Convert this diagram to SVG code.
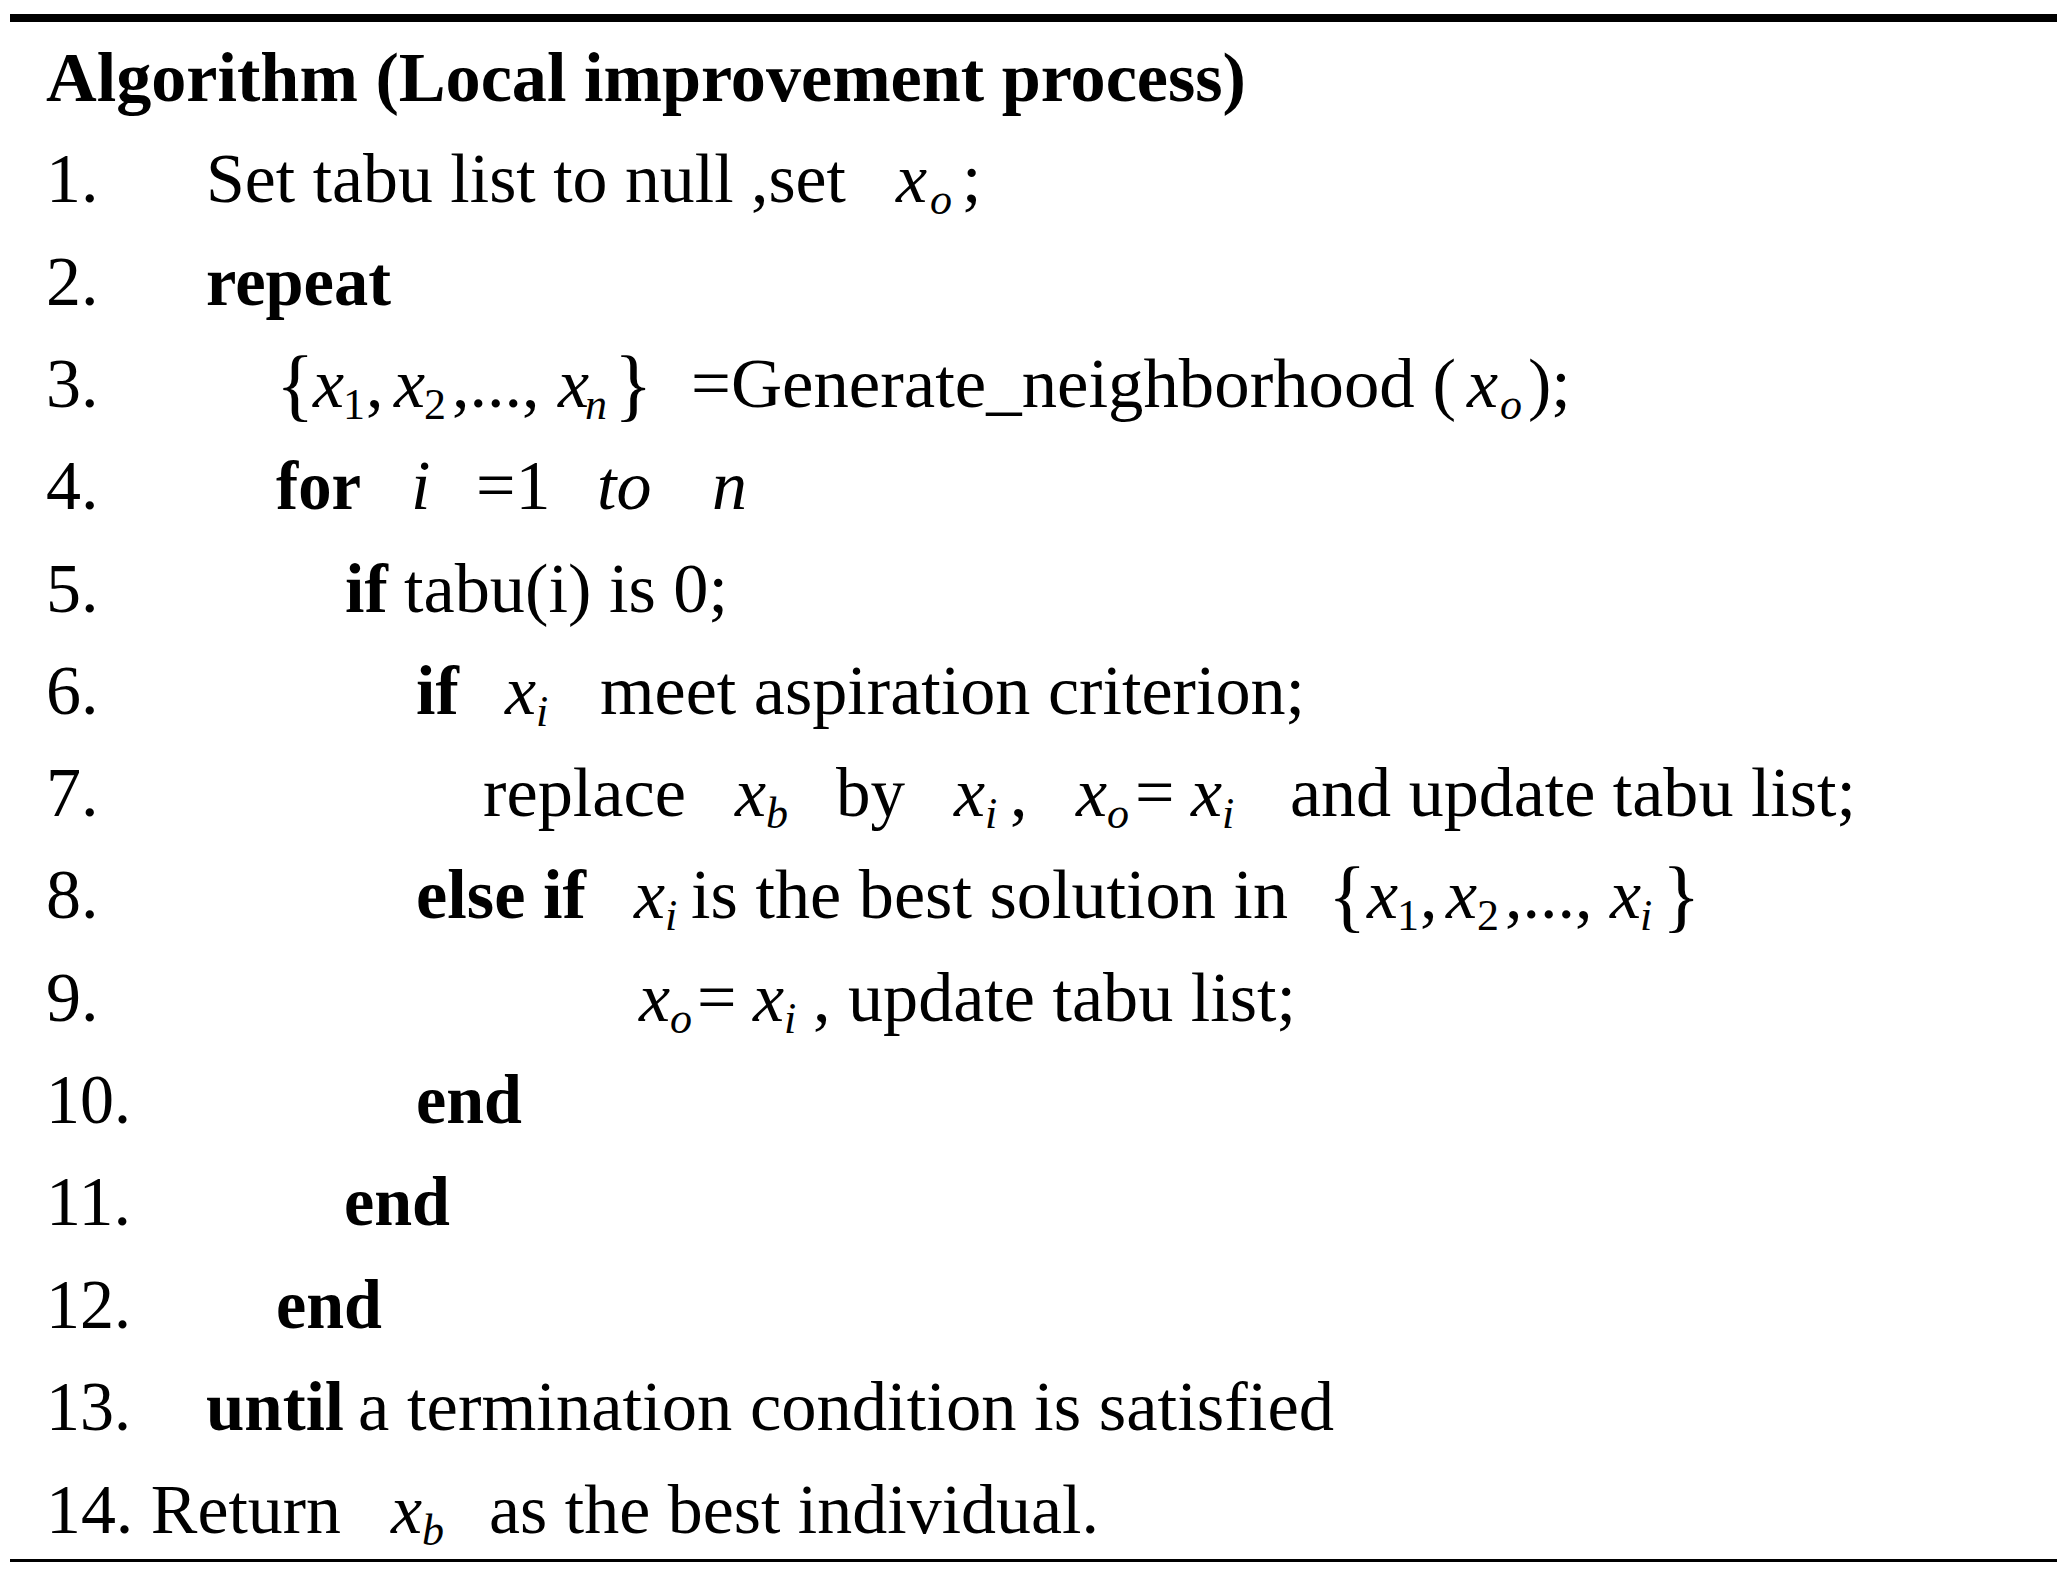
<svg xmlns="http://www.w3.org/2000/svg" width="2057" height="1574" viewBox="0 0 2057 1574">
<style>
text{font-family:"Liberation Serif","Times New Roman",serif;font-size:70px;fill:#000}
.b{font-weight:bold}
.i{font-style:italic}
.s{font-size:44px;font-style:italic}
.n{font-size:44px}
.br{font-size:80px}
</style>
<rect width="2057" height="1574" fill="#fff"/>
<rect x="10" y="14" width="2047" height="8" fill="#000"/>
<rect x="10" y="1559" width="2047" height="3" fill="#000"/>
<g id="title"><text class="b" x="46" y="101" textLength="1200" lengthAdjust="spacingAndGlyphs">Algorithm (Local improvement process)</text></g>
<g id="nums">
<text x="46" y="202">1.</text><text x="46" y="305">2.</text><text x="46" y="407">3.</text>
<text x="46" y="509">4.</text><text x="46" y="612">5.</text><text x="46" y="714">6.</text>
<text x="46" y="816">7.</text><text x="46" y="918">8.</text><text x="46" y="1021">9.</text>
<text x="46" y="1123" textLength="85" lengthAdjust="spacingAndGlyphs">10.</text>
<text x="46" y="1225" textLength="85" lengthAdjust="spacingAndGlyphs">11.</text>
<text x="46" y="1328" textLength="85" lengthAdjust="spacingAndGlyphs">12.</text>
<text x="46" y="1430" textLength="85" lengthAdjust="spacingAndGlyphs">13.</text>
</g>
<g id="l1"><text x="206" y="202" textLength="640" lengthAdjust="spacingAndGlyphs">Set tabu list to null ,set</text><text class="i" x="896" y="202">x</text><text class="s" x="930" y="214">o</text><text x="962" y="202">;</text></g>
<g id="l2"><text class="b" x="206" y="305" textLength="185" lengthAdjust="spacingAndGlyphs">repeat</text></g>
<g id="l3"><text class="br" x="276" y="411">{</text><text class="i" x="313" y="407">x</text><text class="n" x="343" y="419">1</text><text x="366" y="407">,</text><text class="i" x="394" y="407">x</text><text class="n" x="424" y="419">2</text><text x="452" y="407">,...,</text><text class="i" x="558" y="407">x</text><text class="s" x="585" y="419">n</text><text class="br" x="614" y="411">}</text>
<text x="691" y="407" textLength="765" lengthAdjust="spacingAndGlyphs">=Generate_neighborhood (</text><text class="i" x="1467" y="407">x</text><text class="s" x="1500" y="419">o</text><text x="1528" y="407">);</text></g>
<g id="l4"><text class="b" x="276" y="509" textLength="85" lengthAdjust="spacingAndGlyphs">for</text><text class="i" x="411" y="509">i</text><text x="476" y="509">=1</text><text class="i" x="597" y="509">to</text><text class="i" x="712" y="509">n</text></g>
<g id="l5"><text class="b" x="345" y="612">if</text><text x="404" y="612" textLength="324" lengthAdjust="spacingAndGlyphs">tabu(i) is 0;</text></g>
<g id="l6"><text class="b" x="416" y="714">if</text><text class="i" x="505" y="714">x</text><text class="s" x="536" y="726">i</text><text x="600" y="714" textLength="705" lengthAdjust="spacingAndGlyphs">meet aspiration criterion;</text></g>
<g id="l7"><text x="483" y="816" textLength="203" lengthAdjust="spacingAndGlyphs">replace</text><text class="i" x="735" y="816">x</text><text class="s" x="766" y="828">b</text><text x="836" y="816" textLength="69" lengthAdjust="spacingAndGlyphs">by</text><text class="i" x="954" y="816">x</text><text class="s" x="985" y="828">i</text><text x="1010" y="816">,</text><text class="i" x="1076" y="816">x</text><text class="s" x="1107" y="828">o</text><text x="1135" y="816">=</text><text class="i" x="1191" y="816">x</text><text class="s" x="1222" y="828">i</text><text x="1290" y="816" textLength="566" lengthAdjust="spacingAndGlyphs">and update tabu list;</text></g>
<g id="l8"><text class="b" x="416" y="918" textLength="170" lengthAdjust="spacingAndGlyphs">else if</text><text class="i" x="634" y="918">x</text><text class="s" x="665" y="930">i</text><text x="691" y="918" textLength="597" lengthAdjust="spacingAndGlyphs">is the best solution in</text><text class="br" x="1328" y="922">{</text><text class="i" x="1367" y="918">x</text><text class="n" x="1397" y="930">1</text><text x="1420" y="918">,</text><text class="i" x="1446" y="918">x</text><text class="n" x="1477" y="930">2</text><text x="1505" y="918">,...,</text><text class="i" x="1610" y="918">x</text><text class="s" x="1640" y="930">i</text><text class="br" x="1662" y="922">}</text></g>
<g id="l9"><text class="i" x="639" y="1021">x</text><text class="s" x="670" y="1033">o</text><text x="697" y="1021">=</text><text class="i" x="753" y="1021">x</text><text class="s" x="784" y="1033">i</text><text x="813" y="1021" textLength="483" lengthAdjust="spacingAndGlyphs">, update tabu list;</text></g>
<g id="l10"><text class="b" x="416" y="1123" textLength="106" lengthAdjust="spacingAndGlyphs">end</text></g>
<g id="l11"><text class="b" x="344" y="1225" textLength="106" lengthAdjust="spacingAndGlyphs">end</text></g>
<g id="l12"><text class="b" x="276" y="1328" textLength="106" lengthAdjust="spacingAndGlyphs">end</text></g>
<g id="l13"><text class="b" x="206" y="1430" textLength="138" lengthAdjust="spacingAndGlyphs">until</text><text x="358" y="1430" textLength="976" lengthAdjust="spacingAndGlyphs">a termination condition is satisfied</text></g>
<g id="l14"><text x="46" y="1533" textLength="295" lengthAdjust="spacingAndGlyphs">14. Return</text><text class="i" x="391" y="1533">x</text><text class="s" x="422" y="1545">b</text><text x="489" y="1533" textLength="610" lengthAdjust="spacingAndGlyphs">as the best individual.</text></g>
</svg>
